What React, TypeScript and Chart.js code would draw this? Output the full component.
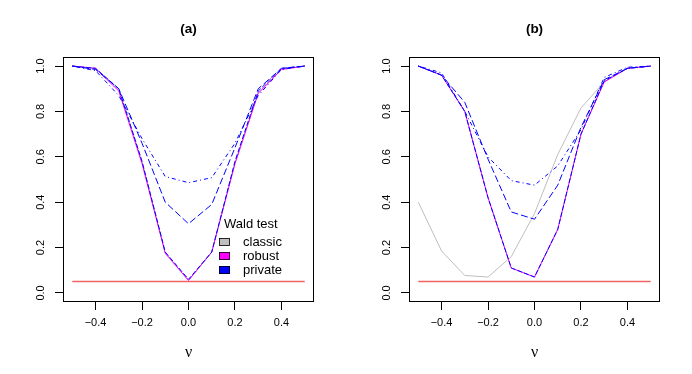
import React, { useEffect, useRef } from "react";
import { Chart, registerables } from "chart.js";
Chart.register(...registerables);

// ---- data ----
const nu = [-0.5, -0.4, -0.3, -0.2, -0.1, 0, 0.1, 0.2, 0.3, 0.4, 0.5];
const xTicks = [-0.4, -0.2, 0, 0.2, 0.4];
const xTickLabels = ["\u22120.4", "\u22120.2", "0.0", "0.2", "0.4"];
const yTicks = [0, 0.2, 0.4, 0.6, 0.8, 1.0];
const yTickLabels = ["0.0", "0.2", "0.4", "0.6", "0.8", "1.0"];
const nominalLevel = 0.05;

// panel (a)
const classicA = [1.0, 0.99, 0.9, 0.58, 0.175, 0.055, 0.18, 0.57, 0.88, 0.985, 1.0];
const robustA = [1.0, 0.99, 0.89, 0.57, 0.175, 0.055, 0.18, 0.57, 0.88, 0.985, 1.0];
const privateA1 = [1.0, 0.99, 0.9, 0.58, 0.18, 0.06, 0.18, 0.58, 0.89, 0.99, 1.0];
const privateA2 = [1.0, 0.985, 0.9, 0.66, 0.4, 0.305, 0.39, 0.64, 0.9, 0.99, 1.0];
const privateA3 = [1.0, 0.98, 0.87, 0.68, 0.513, 0.486, 0.508, 0.66, 0.87, 0.985, 1.0];

// panel (b)
const classicB = [0.4, 0.185, 0.077, 0.07, 0.16, 0.35, 0.61, 0.815, 0.93, 0.99, 1.0];
const robustB = [1.0, 0.96, 0.8, 0.42, 0.11, 0.07, 0.28, 0.7, 0.93, 0.99, 1.0];
const privateB1 = [1.0, 0.96, 0.8, 0.42, 0.11, 0.07, 0.28, 0.7, 0.935, 0.99, 1.0];
const privateB2 = [1.0, 0.96, 0.84, 0.59, 0.357, 0.325, 0.475, 0.73, 0.94, 0.99, 1.0];
const privateB3 = [1.0, 0.97, 0.8, 0.6, 0.495, 0.475, 0.56, 0.72, 0.95, 0.995, 1.0];

const panelTitles = ["(a)", "(b)"];
const xAxisTitle = "\u03bd";
const legendTitle = "Wald test";
const legendLabels = ["classic", "robust", "private"];
const legendColors = ["#BEBEBE", "#FF00FF", "#0000FF"];

const SANS = "'Liberation Sans', Arial, Helvetica, sans-serif";

type Series = { classic: number[]; robust: number[]; p1: number[]; p2: number[]; p3: number[] };

function pts(arr: number[]) {
  return nu.map((x, i) => ({ x, y: arr[i] }));
}

function makeConfig(title: string, s: Series, showLegend: boolean): any {
  const framePlugin = {
    id: "rframe",
    afterDraw(chart: any) {
      const { ctx, chartArea } = chart;
      const ys = chart.scales.y;
      const L = Math.round(chartArea.left);
      const T = Math.round(chartArea.top);
      const R = Math.round(chartArea.right);
      const B = Math.round(chartArea.bottom);
      ctx.save();
      ctx.strokeStyle = "#000";
      ctx.lineWidth = 1;
      ctx.strokeRect(L + 0.5, T + 0.5, R - L - 1, B - T - 1);
      // rotated y tick labels
      ctx.fillStyle = "#000";
      ctx.font = `11px ${SANS}`;
      ctx.textAlign = "center";
      ctx.textBaseline = "middle";
      yTicks.forEach((v, i) => {
        const py = ys.getPixelForValue(v);
        ctx.save();
        ctx.translate(L - 22, py);
        ctx.rotate(-Math.PI / 2);
        ctx.fillText(yTickLabels[i], 0, 0);
        ctx.restore();
      });
      // title
      ctx.font = `bold 13.5px ${SANS}`;
      ctx.textAlign = "center";
      ctx.textBaseline = "middle";
      ctx.fillText(title, (L + R) / 2, T - 28);
      // legend
      if (showLegend) {
        const lx = L + 156;
        const ly = T + 167;
        ctx.font = `13px ${SANS}`;
        ctx.textAlign = "left";
        ctx.fillText(legendTitle, lx + 5, ly);
        legendLabels.forEach((lab, i) => {
          const cy = ly + 18 + i * 14;
          ctx.fillStyle = legendColors[i];
          ctx.fillRect(lx, cy - 4, 11, 8);
          ctx.strokeStyle = "#000";
          ctx.lineWidth = 0.8;
          ctx.strokeRect(lx + 0.5, cy - 3.5, 10, 7);
          ctx.fillStyle = "#000";
          ctx.fillText(lab, lx + 24, cy);
        });
      }
      ctx.restore();
    },
  };

  const line = (label: string, data: number[], color: string, dash: number[], width = 1) => ({
    label,
    data: pts(data),
    borderColor: color,
    backgroundColor: color,
    borderWidth: width,
    borderDash: dash,
    pointRadius: 0,
    tension: 0,
    fill: false,
  });

  return {
    type: "line",
    data: {
      datasets: [
        line("private 3", s.p3, "#0000FF", [1, 3, 4, 3]),
        line("private 2", s.p2, "#0000FF", [7, 3]),
        line("private 1", s.p1, "#0000FF", [5, 2]),
        line("robust", s.robust, "#FF00FF", []),
        line("classic", s.classic, "#BEBEBE", []),
        {
          label: "level",
          data: [
            { x: nu[0], y: nominalLevel },
            { x: nu[nu.length - 1], y: nominalLevel },
          ],
          borderColor: "#F06464",
          borderWidth: 1.5,
          pointRadius: 0,
          fill: false,
        },
      ],
    },
    plugins: [framePlugin],
    options: {
      responsive: false,
      animation: false,
      layout: { padding: { left: 0, right: 32, top: 57, bottom: 0 } },
      plugins: { legend: { display: false }, tooltip: { enabled: false }, title: { display: false } },
      scales: {
        x: {
          type: "linear",
          min: -0.54,
          max: 0.54,
          afterBuildTicks: (sc: any) => {
            sc.ticks = xTicks.map((v) => ({ value: v }));
          },
          afterFit: (sc: any) => {
            sc.height = 72;
          },
          grid: { display: true, drawOnChartArea: false, drawTicks: true, tickLength: 8, color: "#000", lineWidth: 1 },
          border: { display: false },
          ticks: {
            autoSkip: false,
            maxRotation: 0,
            minRotation: 0,
            padding: 6,
            color: "#000",
            font: { family: SANS, size: 11 },
            callback: (_v: any, i: number) => xTickLabels[i],
          },
          title: {
            display: true,
            text: xAxisTitle,
            color: "#000",
            font: { family: "'Liberation Serif', 'DejaVu Serif', serif", size: 16 },
            padding: { top: 0, bottom: 12 },
          },
        },
        y: {
          type: "linear",
          min: -0.04,
          max: 1.04,
          afterBuildTicks: (sc: any) => {
            sc.ticks = yTicks.map((v) => ({ value: v }));
          },
          afterFit: (sc: any) => {
            sc.width = 63;
          },
          grid: { display: true, drawOnChartArea: false, drawTicks: true, tickLength: 8, color: "#000", lineWidth: 1 },
          border: { display: false },
          ticks: { display: false },
        },
      },
    },
  };
}

function Panel({ title, series, legend, left }: { title: string; series: Series; legend: boolean; left: number }) {
  const ref = useRef<HTMLCanvasElement | null>(null);
  useEffect(() => {
    if (!ref.current) return;
    const chart = new Chart(ref.current, makeConfig(title, series, legend));
    return () => chart.destroy();
  }, []);
  return (
    <div style={{ position: "absolute", left, top: 0, width: 346, height: 374 }}>
      <canvas ref={ref} width={346} height={374} style={{ display: "block", width: 346, height: 374 }} />
    </div>
  );
}

export default function App() {
  return (
    <div style={{ position: "absolute", left: 0, top: 0, width: 692, height: 374, background: "#fff" }}>
      <Panel
        title={panelTitles[0]}
        series={{ classic: classicA, robust: robustA, p1: privateA1, p2: privateA2, p3: privateA3 }}
        legend={true}
        left={0}
      />
      <Panel
        title={panelTitles[1]}
        series={{ classic: classicB, robust: robustB, p1: privateB1, p2: privateB2, p3: privateB3 }}
        legend={false}
        left={346}
      />
    </div>
  );
}
